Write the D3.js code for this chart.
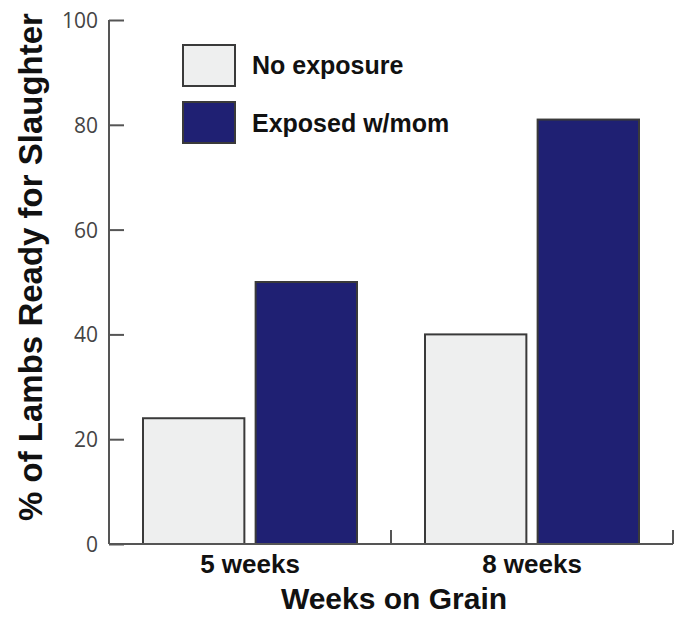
<!DOCTYPE html>
<html><head><meta charset="utf-8">
<script src="https://cdn.jsdelivr.net/npm/d3@7"></script>
<style>body{margin:0;background:#fff}svg{display:block}</style>
</head><body>
<svg id="c" width="681" height="617"></svg>
<script>
const categories = ["5 weeks", "8 weeks"];
const seriesNames = ["No exposure", "Exposed w/mom"];
const noExposure = [24, 40];
const exposedWithMom = [50, 81];
const yTicks = [0, 20, 40, 60, 80, 100];
const colors = ["#eeefef", "#1f2073"];

const svg = d3.select("#c");
const mLeft = 109, mRight = 673, mTop = 20, mBottom = 544;

const y = d3.scaleLinear().domain([0, 100]).range([mBottom, mTop]);
const x0 = d3.scaleBand().domain(categories).range([mLeft, mRight]).padding(0);
const x1 = d3.scaleBand().domain(seriesNames).range([34, 248]).paddingInner(0.1).paddingOuter(0);

const values = [noExposure, exposedWithMom];
const bars = [];
categories.forEach((c, i) => seriesNames.forEach((s, j) => bars.push({c, s, j, v: values[j][i]})));

svg.append("g").selectAll("rect").data(bars).join("rect")
  .attr("x", d => x0(d.c) + x1(d.s))
  .attr("y", d => y(d.v))
  .attr("width", x1.bandwidth())
  .attr("height", d => y(0) - y(d.v))
  .attr("fill", d => colors[d.j])
  .attr("stroke", "#3a3a3a")
  .attr("stroke-width", 2);

// Y axis
const yAxis = d3.axisRight(y).tickValues(yTicks).tickSize(15).tickFormat(d3.format("d"));
const gy = svg.append("g").attr("transform", `translate(${mLeft},0)`).call(yAxis);
gy.select(".domain").attr("stroke", "#555").attr("stroke-width", 2).attr("d", `M0,${mTop}V${mBottom}`);
gy.selectAll(".tick line").attr("stroke", "#555").attr("stroke-width", 2);
gy.selectAll(".tick text").attr("x", -11).attr("text-anchor", "end").attr("dy", "0.36em")
  .attr("fill", "#444").style("font-family", "'Open Sans', sans-serif").style("font-size", "21px");

// X axis
const gx = svg.append("g");
gx.append("line").attr("x1", mLeft).attr("x2", mRight).attr("y1", mBottom).attr("y2", mBottom)
  .attr("stroke", "#555").attr("stroke-width", 2);
gx.selectAll("line.t").data(categories).join("line").attr("class", "t")
  .attr("x1", d => x0(d) + x0.bandwidth()).attr("x2", d => x0(d) + x0.bandwidth())
  .attr("y1", mBottom).attr("y2", mBottom - 14).attr("stroke", "#555").attr("stroke-width", 2);
gx.selectAll("text").data(categories).join("text")
  .attr("x", d => x0(d) + x0.bandwidth() / 2).attr("y", 573)
  .attr("text-anchor", "middle").attr("fill", "#111")
  .style("font-family", "'Liberation Sans', Arial, sans-serif").style("font-weight", "bold").style("font-size", "26px")
  .text(d => d);

// Titles
svg.append("text").attr("x", 394).attr("y", 609).attr("text-anchor", "middle").attr("fill", "#111")
  .style("font-family", "'Liberation Sans', Arial, sans-serif").style("font-weight", "bold").style("font-size", "30px")
  .text("Weeks on Grain");
svg.append("text").attr("transform", "translate(42,267) rotate(-90)").attr("text-anchor", "middle").attr("fill", "#111")
  .style("font-family", "'Liberation Sans', Arial, sans-serif").style("font-weight", "bold").style("font-size", "33px")
  .text("% of Lambs Ready for Slaughter");

// Legend
const lg = svg.append("g");
seriesNames.forEach((s, j) => {
  lg.append("rect").attr("x", 183).attr("y", 45 + j * 57).attr("width", 52).attr("height", 41)
    .attr("fill", colors[j]).attr("stroke", "#3a3a3a").attr("stroke-width", 2);
  lg.append("text").attr("x", 252).attr("y", 74 + j * 58).attr("fill", "#111")
    .style("font-family", "'Liberation Sans', Arial, sans-serif").style("font-weight", "bold").style("font-size", "25px")
    .text(s);
});
</script>
</body></html>
